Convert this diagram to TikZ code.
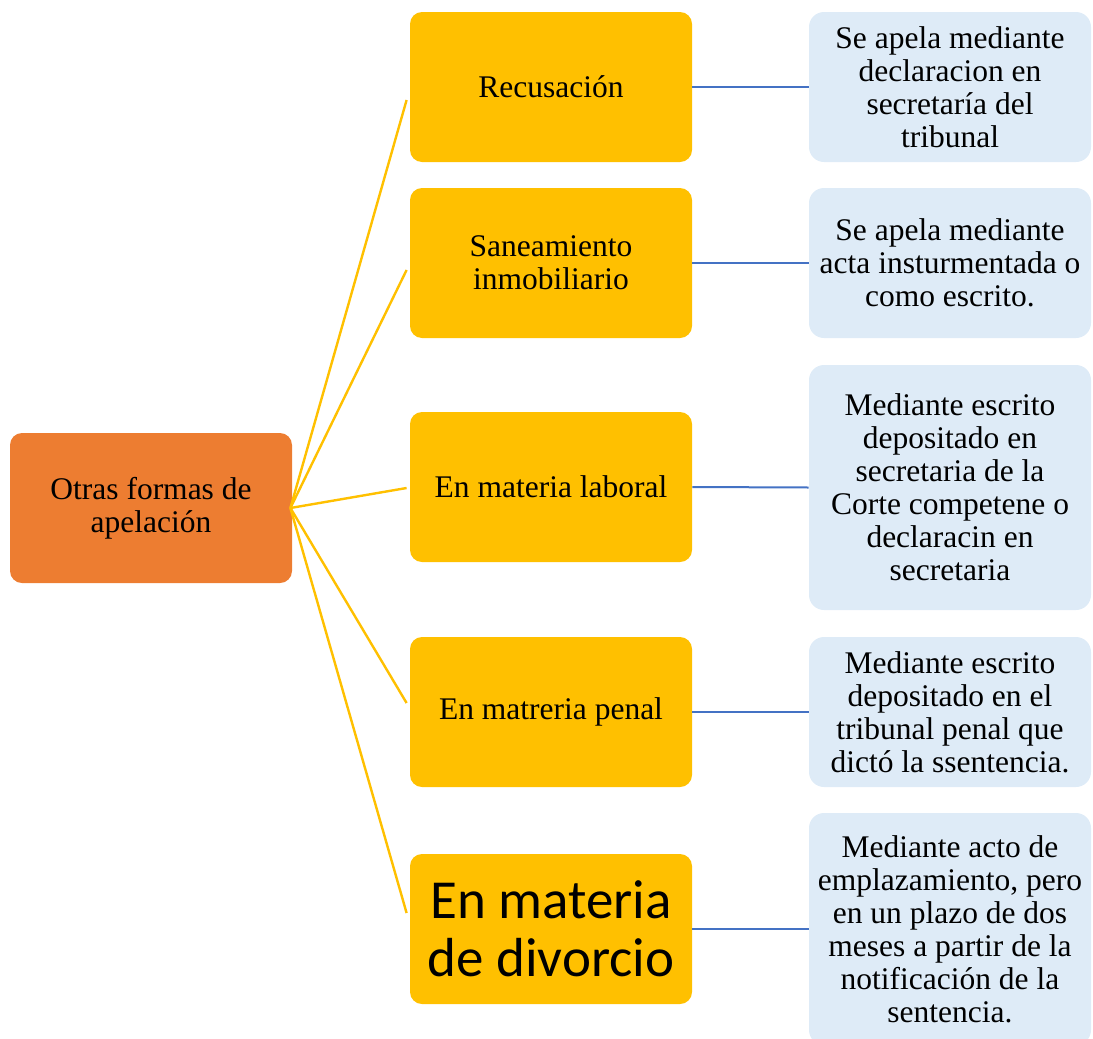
\documentclass[tikz,border=0pt]{standalone}
\usepackage{fontspec}
\setmainfont{Liberation Serif}
\newfontfamily\calibrifont{Carlito}
\usepackage{xcolor}
\usepackage{tikz}
\usetikzlibrary{positioning}
\definecolor{rootorange}{HTML}{ED7D31}
\definecolor{branchyellow}{HTML}{FFC000}
\definecolor{leafblue}{HTML}{DEEBF7}
\definecolor{linkblue}{HTML}{4472C4}

\begin{document}
\begin{tikzpicture}[x=0.5pt, y=-0.5pt,
    root/.style={fill=rootorange, rounded corners=6pt, minimum width=141pt,
                 minimum height=75pt, align=center,
                 font=\fontsize{15.75}{16.5}\selectfont},
    branch/.style={fill=branchyellow, rounded corners=6pt, minimum width=141pt,
                   minimum height=75pt, align=center,
                   font=\fontsize{15.75}{16.5}\selectfont},
    leaf/.style={fill=leafblue, rounded corners=7.5pt, minimum width=141pt,
                 minimum height=75pt, align=center, inner sep=2pt,
                 font=\fontsize{15.75}{16.5}\selectfont},
    spoke/.style={draw=branchyellow, line width=1.2pt},
    link/.style={draw=linkblue, line width=1pt},
]
\useasboundingbox (0,0) rectangle (1093,1039);

\node[root] (root) at (151,508) {Otras formas de\\apelación};

\node[branch] (b1) at (551,87) {Recusación};
\node[branch] (b2) at (551,263) {Saneamiento\\inmobiliario};
\node[branch] (b3) at (551,487) {En materia laboral};
\node[branch] (b4) at (551,712) {En matreria penal};
\node[branch, font=\calibrifont\fontsize{27.5}{29}\selectfont] (b5) at (551,929)
    {En materia\\de divorcio};

\node[leaf] (l1) at (950,87)
    {Se apela mediante\\declaracion en\\secretaría del\\tribunal};
\node[leaf] (l2) at (950,263)
    {Se apela mediante\\acta insturmentada o\\como escrito.};
\node[leaf, minimum height=122.5pt] (l3) at (950,487.5)
    {Mediante escrito\\depositado en\\secretaria de la\\Corte competene o\\declaracin en\\secretaria};
\node[leaf] (l4) at (950,712)
    {Mediante escrito\\depositado en el\\tribunal penal que\\dictó la ssentencia.};
\node[leaf, minimum height=116pt] (l5) at (950,929)
    {Mediante acto de\\emplazamiento, pero\\en un plazo de dos\\meses a partir de la\\notificación de la\\sentencia.};

% spokes from the root
\draw[spoke] ([xshift=-1pt]root.east) -- ([xshift=-1.5pt,yshift=-6.5pt]b1.west);
\draw[spoke] ([xshift=-1pt]root.east) -- ([xshift=-1.5pt,yshift=-3.5pt]b2.west);
\draw[spoke] ([xshift=-1pt]root.east) -- ([xshift=-1.5pt,yshift=-0.5pt]b3.west);
\draw[spoke] ([xshift=-1pt]root.east) -- ([xshift=-1.5pt,yshift=4.5pt]b4.west);
\draw[spoke] ([xshift=-1pt]root.east) -- ([xshift=-1.5pt,yshift=8pt]b5.west);

% branch to leaf
\draw[link] (b1.east) -- (l1.west);
\draw[link] (b2.east) -- (l2.west);
\draw[link] (b3.east) -- (l3.west);
\draw[link] (b4.east) -- (l4.west);
\draw[link] (b5.east) -- (l5.west);
\end{tikzpicture}
\end{document}
